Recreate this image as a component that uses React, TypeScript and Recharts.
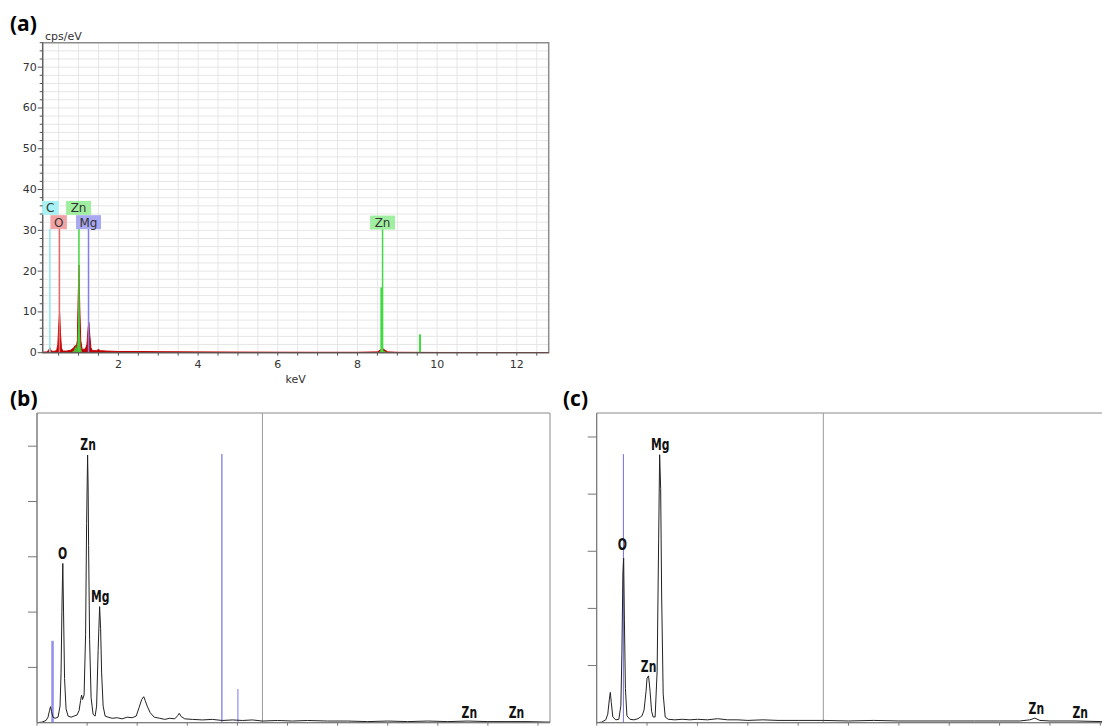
import React from 'react';
import {
  ComposedChart, LineChart, Line, Area, XAxis, YAxis, CartesianGrid,
  ReferenceLine, ReferenceDot, ReferenceArea,
} from 'recharts';

// (a) EDS spectrum, keV vs cps/eV
const aEnergy = [
  0.1, 0.2, 0.25, 0.28, 0.31, 0.36, 0.45, 0.48, 0.505, 0.525,
  0.545, 0.57, 0.6, 0.7, 0.8, 0.88, 0.92, 0.94, 0.97, 0.99,
  1.01, 1.03, 1.055, 1.09, 1.17, 1.21, 1.24, 1.26, 1.28, 1.31,
  1.35, 1.45, 1.5, 1.55, 1.7, 2.0, 2.5, 3.0, 4.0, 5.0,
  6.0, 7.0, 8.0, 8.5, 8.58, 8.63, 8.68, 8.76, 9.0, 9.55,
  9.6, 10.0, 11.0, 12.0, 12.8,
];
const aTotal = [
  0.1, 0.2, 0.6, 1.2, 0.5, 0.3, 0.5, 2, 7, 9.7,
  5, 1.2, 0.4, 0.4, 0.6, 1.2, 1.8, 1.2, 3, 13,
  21.5, 11, 3, 0.8, 0.9, 2, 6, 7.4, 4.5, 1.2,
  0.5, 0.5, 0.8, 0.5, 0.4, 0.3, 0.3, 0.25, 0.2, 0.15,
  0.12, 0.1, 0.1, 0.2, 0.7, 1.0, 0.7, 0.2, 0.1, 0.08,
  0.08, 0.06, 0.05, 0.04, 0.03,
];
const aZnFit = [
  0, 0, 0, 0, 0, 0, 0, 0, 0, 0,
  0, 0, 0, 0, 0, 0.5, 1.6, 1, 2.5, 8,
  12, 6, 1.5, 0, 0, 0, 0, 0, 0, 0,
  0, 0, 0, 0, 0, 0, 0, 0, 0, 0,
  0, 0, 0, 0, 0.4, 0.6, 0.4, 0, 0, 0,
  0, 0, 0, 0, 0,
];
const aXTicks = [
  0.5, 1, 1.5, 2, 2.5, 3, 3.5, 4, 4.5, 5, 5.5, 6, 6.5, 7, 7.5, 8,
  8.5, 9, 9.5, 10, 10.5, 11, 11.5, 12, 12.5,
];
const aYTicks = [
  0, 2, 4, 6, 8, 10, 12, 14, 16, 18, 20, 22, 24, 26, 28, 30, 32, 34, 36, 38,
  40, 42, 44, 46, 48, 50, 52, 54, 56, 58, 60, 62, 64, 66, 68, 70, 72, 74, 76,
];
const aElements = ['C', 'O', 'Zn', 'Mg', 'Zn'];
const aElementKeV = [0.28, 0.52, 1.01, 1.25, 8.63];
const aLineTop = [30.4, 30.4, 30.4, 30.4, 30.4];
const aLabelKeV = [0.29, 0.5, 1.0, 1.25, 8.63];
const aLabelY = [35.5, 32, 35.5, 32, 31.9];
const aExtraKeV = [8.6, 9.57];
const aExtraTop = [16, 4.5];

// (b) spectrum
const bEnergy = [
  0, 0.1, 0.18, 0.22, 0.25, 0.27, 0.29, 0.32, 0.36, 0.42,
  0.46, 0.48, 0.5, 0.515, 0.53, 0.55, 0.58, 0.62, 0.68, 0.74,
  0.8, 0.84, 0.87, 0.89, 0.91, 0.94, 0.97, 0.99, 1.01, 1.02,
  1.03, 1.05, 1.08, 1.12, 1.16, 1.19, 1.22, 1.25, 1.27, 1.29,
  1.32, 1.36, 1.42, 1.5, 1.6, 1.7, 1.8, 1.9, 1.98, 2.04,
  2.09, 2.13, 2.16, 2.2, 2.26, 2.34, 2.45, 2.55, 2.65, 2.75,
  2.81, 2.84, 2.88, 2.95, 3.1, 3.3, 3.5, 3.7, 3.9, 4.1,
  4.3, 4.5, 4.8, 5.1, 5.4, 5.8, 6.2, 6.6, 7.0, 7.4,
  7.8, 8.2, 8.6, 9.0, 9.4, 9.8, 10.24,
];
const bCounts = [
  0, 0.01, 0.04, 0.1, 0.22, 0.29, 0.2, 0.1, 0.08, 0.1,
  0.3, 0.9, 2.2, 2.88, 2.0, 0.8, 0.25, 0.12, 0.1, 0.12,
  0.14, 0.22, 0.4, 0.5, 0.42, 0.5, 1.6, 3.6, 4.84, 4.3,
  3.2, 1.5, 0.45, 0.15, 0.12, 0.3, 1.3, 2.1, 1.7, 0.9,
  0.3, 0.12, 0.1, 0.08, 0.09, 0.07, 0.1, 0.09, 0.12, 0.28,
  0.42, 0.47, 0.4, 0.3, 0.18, 0.1, 0.08, 0.06, 0.08, 0.07,
  0.13, 0.17, 0.11, 0.07, 0.06, 0.05, 0.06, 0.04, 0.05, 0.04,
  0.05, 0.03, 0.04, 0.03, 0.04, 0.03, 0.03, 0.02, 0.03, 0.02,
  0.03, 0.02, 0.03, 0.02, 0.02, 0.02, 0.01,
];
const bMarkerKeV = [0.31, 3.69, 4.01];
const bMarkerTop = [1.48, 4.86, 0.61];
const bLabels = ['O', 'Zn', 'Mg', 'Zn', 'Zn'];
const bLabelKeV = [0.51, 1.02, 1.26, 8.63, 9.57];
const bLabelY = [3.06, 5.02, 2.28, 0.18, 0.18];

// (c) spectrum
const cEnergy = [
  0, 0.1, 0.18, 0.22, 0.25, 0.27, 0.29, 0.32, 0.38, 0.44,
  0.48, 0.5, 0.52, 0.535, 0.55, 0.57, 0.6, 0.66, 0.74, 0.82,
  0.87, 0.9, 0.94, 0.98, 1.0, 1.03, 1.06, 1.09, 1.12, 1.16,
  1.2, 1.23, 1.25, 1.27, 1.29, 1.32, 1.36, 1.42, 1.55, 1.7,
  1.85, 2.0, 2.2, 2.4, 2.6, 2.8, 3.0, 3.3, 3.6, 4.0,
  4.5, 5.0, 5.5, 6.0, 6.5, 7.0, 7.5, 8.0, 8.4, 8.6,
  8.7, 8.8, 9.0, 9.5, 10.0, 10.55,
];
const cCounts = [
  0, 0.01, 0.05, 0.15, 0.4, 0.53, 0.35, 0.1, 0.05, 0.06,
  0.3, 1.2, 2.6, 2.88, 1.8, 0.6, 0.12, 0.06, 0.05, 0.07,
  0.1, 0.12, 0.22, 0.55, 0.78, 0.82, 0.55, 0.2, 0.1, 0.1,
  0.9, 3.2, 4.69, 4.1, 2.2, 0.5, 0.1, 0.06, 0.05, 0.06,
  0.05, 0.06, 0.05, 0.07, 0.05, 0.05, 0.04, 0.05, 0.04, 0.04,
  0.04, 0.03, 0.04, 0.03, 0.03, 0.03, 0.03, 0.03, 0.03, 0.05,
  0.08, 0.04, 0.03, 0.03, 0.02, 0.02,
];
const cMarkerKeV = [0.53];
const cMarkerTop = [4.7];
const cLabels = ['O', 'Mg', 'Zn', 'Zn', 'Zn'];
const cLabelKeV = [0.51, 1.26, 1.03, 8.73, 9.6];
const cLabelY = [3.11, 4.86, 0.98, 0.25, 0.18];

const bcXTicks = [0, 1, 2, 3, 4, 5, 6, 7, 8, 9, 10];
const bcYTicks = [1, 2, 3, 4, 5];

const elColors: Record<string, { line: string; box: string }> = {
  C: { line: '#8ee6ec', box: '#a8f1f4' },
  O: { line: '#e56b6b', box: '#f1a3a3' },
  Zn: { line: '#3edc3e', box: '#a0efa0' },
  Mg: { line: '#8080ee', box: '#a9a9f3' },
};

const tickFont = { fontFamily: "'DejaVu Sans', Verdana, sans-serif", fontSize: 11, fill: '#333' };
const peakFont = {
  fontFamily: "'DejaVu Sans', sans-serif",
  fontSize: 15,
  fontWeight: 700,
  fill: '#111',
};
const panelLetter: React.CSSProperties = {
  position: 'absolute',
  fontFamily: "'Open Sans', sans-serif",
  fontWeight: 700,
  fontSize: 21,
  lineHeight: '22px',
  color: '#000',
};

const aTable = aEnergy.map((e, i) => ({ e, total: aTotal[i], zn: aZnFit[i] }));
const bTable = bEnergy.map((e, i) => ({ e, v: bCounts[i] }));
const cTable = cEnergy.map((e, i) => ({ e, v: cCounts[i] }));

const AYTick = (props: any) => {
  const { x, y, payload } = props;
  const major = payload.value % 10 === 0;
  const axisX = x + 6;
  return (
    <g>
      <line x1={axisX - (major ? 5 : 3)} x2={axisX} y1={y} y2={y} stroke="#555" />
      {major && (
        <text x={axisX - 6} y={y} textAnchor="end" dominantBaseline="central" {...tickFont}>
          {payload.value}
        </text>
      )}
    </g>
  );
};

const elementBox = (name: string) => (p: any) => {
  const w = 8 + name.length * 8.5;
  return (
    <g>
      <rect x={p.cx - w / 2} y={p.cy - 7} width={w} height={14} fill={elColors[name].box} />
      <text x={p.cx} y={p.cy + 0.5} textAnchor="middle" dominantBaseline="central" {...tickFont} fontSize={12}>
        {name}
      </text>
    </g>
  );
};

// narrow bold labels, squeezed horizontally like the instrument font
const peakLabel = (name: string) => (p: any) => (
  <text
    transform={`translate(${p.cx},${p.cy}) scale(0.72,1)`}
    x={0}
    y={0}
    textAnchor="middle"
    dominantBaseline="central"
    {...peakFont}
  >
    {name}
  </text>
);

function PanelA() {
  return (
    <ComposedChart
      width={600}
      height={400}
      data={aTable}
      margin={{ top: 42.7, right: 51.3, left: 12.7, bottom: 17.3 }}
    >
      <CartesianGrid stroke="#e6e6e6" />
      <XAxis
        dataKey="e"
        type="number"
        domain={[0.1, 12.8]}
        allowDataOverflow
        ticks={aXTicks}
        interval={0}
        height={30}
        tickSize={3}
        tickMargin={4}
        stroke="#555"
        tick={tickFont}
        tickFormatter={(v: number) => (v % 2 === 0 ? String(v) : '')}
        label={{ value: 'keV', position: 'insideBottom', offset: 0, ...tickFont }}
      />
      <YAxis
        type="number"
        domain={[0, 76]}
        allowDataOverflow
        ticks={aYTicks}
        interval={0}
        width={30}
        tickSize={4}
        tickMargin={2}
        tickLine={false}
        stroke="#555"
        tick={<AYTick />}
      />
      <ReferenceArea x1={0.1} x2={12.8} y1={0} y2={76} fill="none" stroke="#8e8e8e" strokeWidth={1.5} />
      {aElements.map((n, i) => (
        <ReferenceLine
          key={'l' + i}
          segment={[{ x: aElementKeV[i], y: 0 }, { x: aElementKeV[i], y: aLineTop[i] }]}
          stroke={elColors[n].line}
          strokeWidth={1.5}
        />
      ))}
      {aExtraKeV.map((k, i) => (
        <ReferenceLine
          key={'x' + i}
          segment={[{ x: k, y: 0 }, { x: k, y: aExtraTop[i] }]}
          stroke="#3edc3e"
          strokeWidth={2}
        />
      ))}
      <Area
        type="linear"
        dataKey="total"
        stroke="#c00000"
        strokeWidth={1}
        fill="#c00000"
        fillOpacity={1}
        isAnimationActive={false}
      />
      <Area
        type="linear"
        dataKey="zn"
        stroke="none"
        fill="#3ed23e"
        fillOpacity={0.85}
        isAnimationActive={false}
      />
      {aElements.map((n, i) => (
        <ReferenceDot key={'b' + i} x={aLabelKeV[i]} y={aLabelY[i]} r={0} shape={elementBox(n)} />
      ))}
    </ComposedChart>
  );
}

function SpectrumPanel(props: {
  table: { e: number; v: number }[];
  xMax: number;
  yMax: number;
  width: number;
  leftMargin: number;
  markerKeV: number[];
  markerTop: number[];
  markerColor: string;
  markerWidths: number[];
  labels: string[];
  labelKeV: number[];
  labelY: number[];
}) {
  const p = props;
  return (
    <LineChart
      width={p.width}
      height={346}
      data={p.table}
      margin={{ top: 33, right: 10, left: p.leftMargin, bottom: 0.3 }}
    >
      <XAxis
        dataKey="e"
        type="number"
        domain={[0, p.xMax]}
        allowDataOverflow
        ticks={bcXTicks}
        interval={0}
        height={3}
        tickSize={3}
        stroke="#777"
        tickFormatter={() => ''}
      />
      <YAxis
        type="number"
        domain={[0, p.yMax]}
        allowDataOverflow
        ticks={bcYTicks}
        interval={0}
        width={12}
        tickSize={9}
        stroke="#777"
        tickFormatter={() => ''}
      />
      <ReferenceArea x1={0} x2={p.xMax} y1={0} y2={p.yMax} fill="none" stroke="#8a8a8a" strokeWidth={1} />
      <ReferenceLine x={4.5} stroke="#9a9a9a" strokeWidth={1} />
      {p.markerKeV.map((k, i) => (
        <ReferenceLine
          key={'m' + i}
          segment={[{ x: k, y: 0 }, { x: k, y: p.markerTop[i] }]}
          stroke={p.markerColor}
          strokeWidth={p.markerWidths[i]}
        />
      ))}
      <Line type="linear" dataKey="v" stroke="#222" strokeWidth={1} dot={false} isAnimationActive={false} />
      {p.labels.map((n, i) => (
        <ReferenceDot key={'t' + i} x={p.labelKeV[i]} y={p.labelY[i]} r={0} shape={peakLabel(n)} />
      ))}
    </LineChart>
  );
}

export default function App() {
  return (
    <div
      style={{
        position: 'absolute',
        left: 0,
        top: 0,
        width: 1102,
        height: 726,
        overflow: 'hidden',
        background: '#fff',
      }}
    >
      <div style={{ ...panelLetter, left: 10, top: 12 }}>(a)</div>
      <div style={{ ...panelLetter, left: 10, top: 387 }}>(b)</div>
      <div style={{ ...panelLetter, left: 563, top: 387 }}>(c)</div>
      <div
        style={{
          position: 'absolute',
          left: 45,
          top: 30,
          fontFamily: "'DejaVu Sans', Verdana, sans-serif",
          fontSize: 11,
          color: '#333',
        }}
      >
        cps/eV
      </div>
      <div style={{ position: 'absolute', left: 0, top: 0 }}>
        <PanelA />
      </div>
      <div style={{ position: 'absolute', left: 0, top: 380 }}>
        <SpectrumPanel
          table={bTable}
          xMax={10.24}
          yMax={5.6}
          width={560}
          leftMargin={25}
          markerKeV={bMarkerKeV}
          markerTop={bMarkerTop}
          markerColor="#8f8fec"
          markerWidths={[2.5, 1.5, 1.2]}
          labels={bLabels}
          labelKeV={bLabelKeV}
          labelY={bLabelY}
        />
      </div>
      <div style={{ position: 'absolute', left: 560, top: 380 }}>
        <SpectrumPanel
          table={cTable}
          xMax={10.55}
          yMax={5.42}
          width={578}
          leftMargin={24.7}
          markerKeV={cMarkerKeV}
          markerTop={cMarkerTop}
          markerColor="#6f6fd8"
          markerWidths={[1]}
          labels={cLabels}
          labelKeV={cLabelKeV}
          labelY={cLabelY}
        />
      </div>
    </div>
  );
}
